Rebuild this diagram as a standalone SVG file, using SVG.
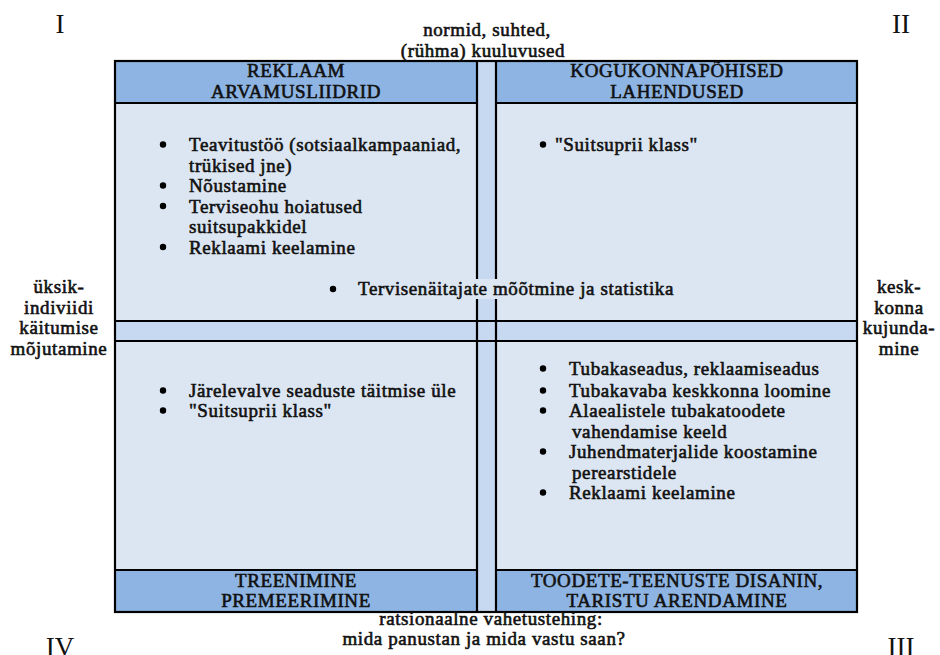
<svg xmlns="http://www.w3.org/2000/svg" width="940" height="655" viewBox="0 0 940 655">
<style>
text{font-family:"Liberation Serif",serif;font-weight:normal;font-size:19px;fill:#111;stroke:#111;stroke-width:0.6;letter-spacing:0.6px}
.c{text-anchor:middle}
.num{font-size:27px;stroke:none;letter-spacing:0}
.body{fill:#DCE6F2}
.band{fill:#8DB4E2}
.strip{fill:#C6D9F1}
.ln{stroke:#000;stroke-width:2.2;fill:none}
.b{fill:#000}
</style>
<rect width="940" height="655" fill="#fff"/>
<g id="frame">
<rect class="body" x="115" y="61" width="742" height="551"/>
<rect class="band" x="115" y="61" width="362" height="42"/>
<rect class="band" x="496" y="61" width="361" height="42"/>
<rect class="band" x="115" y="570" width="362" height="42"/>
<rect class="band" x="496" y="570" width="361" height="42"/>
<rect class="strip" x="477" y="61" width="19" height="551"/>
<rect class="strip" x="115" y="321" width="742" height="20"/>
<path class="ln" d="M115 103H477M496 103H857M115 570H477M496 570H857M115 321H857M115 341H857M477 61V612M496 61V612"/>
<rect class="ln" x="115" y="61" width="742" height="551"/>
</g>
<g id="q1">
<text class="c" x="296" y="77">REKLAAM</text>
<text class="c" x="296" y="98">ARVAMUSLIIDRID</text>
<circle class="b" cx="163" cy="144.5" r="3.2"/>
<text x="189" y="151">Teavitustöö (sotsiaalkampaaniad,</text>
<text x="189" y="171.5">trükised jne)</text>
<circle class="b" cx="163" cy="185.5" r="3.2"/>
<text x="189" y="192">Nõustamine</text>
<circle class="b" cx="163" cy="206" r="3.2"/>
<text x="189" y="212.5">Terviseohu hoiatused</text>
<text x="189" y="233">suitsupakkidel</text>
<circle class="b" cx="163" cy="247" r="3.2"/>
<text x="189" y="253.5">Reklaami keelamine</text>
</g>
<g id="q2">
<text class="c" x="677" y="77">KOGUKONNAPÕHISED</text>
<text class="c" x="677" y="98">LAHENDUSED</text>
<circle class="b" cx="543" cy="144.5" r="3.2"/>
<text x="555" y="151">"Suitsuprii klass"</text>
</g>
<g id="center">
<rect class="body" x="355" y="279" width="330" height="20"/>
<circle class="b" cx="333" cy="289" r="3.2"/>
<text x="358" y="295">Tervisenäitajate mõõtmine ja statistika</text>
</g>
<g id="q4">
<circle class="b" cx="163" cy="390.5" r="3.2"/>
<text x="189" y="397">Järelevalve seaduste täitmise üle</text>
<circle class="b" cx="163" cy="410.5" r="3.2"/>
<text x="189" y="417">"Suitsuprii klass"</text>
<text class="c" x="296" y="587">TREENIMINE</text>
<text class="c" x="296" y="607">PREMEERIMINE</text>
</g>
<g id="q3">
<circle class="b" cx="543" cy="368.5" r="3.2"/>
<text x="569" y="375">Tubakaseadus, reklaamiseadus</text>
<circle class="b" cx="543" cy="390.5" r="3.2"/>
<text x="569" y="397">Tubakavaba keskkonna loomine</text>
<circle class="b" cx="543" cy="410.5" r="3.2"/>
<text x="569" y="417">Alaealistele tubakatoodete</text>
<text x="572" y="438">vahendamise keeld</text>
<circle class="b" cx="543" cy="451.5" r="3.2"/>
<text x="569" y="458">Juhendmaterjalide koostamine</text>
<text x="572" y="479">perearstidele</text>
<circle class="b" cx="543" cy="492.5" r="3.2"/>
<text x="569" y="499">Reklaami keelamine</text>
<text class="c" x="677" y="587">TOODETE-TEENUSTE DISANIN,</text>
<text class="c" x="677" y="607">TARISTU ARENDAMINE</text>
</g>
<g id="axes">
<text class="c" x="487" y="36">normid, suhted,</text>
<text class="c" x="483" y="57">(rühma) kuuluvused</text>
<text class="c" x="491" y="625" font-size="18">ratsionaalne vahetustehing:</text>
<text class="c" x="484" y="645" font-size="18">mida panustan ja mida vastu saan?</text>
<text class="c" x="59" y="293">üksik-</text>
<text class="c" x="59" y="313.5">indiviidi</text>
<text class="c" x="59" y="334">käitumise</text>
<text class="c" x="59" y="354.5">mõjutamine</text>
<text class="c" x="899" y="293">kesk-</text>
<text class="c" x="899" y="313.5">konna</text>
<text class="c" x="899" y="334">kujunda-</text>
<text class="c" x="899" y="354.5">mine</text>
</g>
<g id="numerals">
<text class="c num" x="60" y="33">I</text>
<text class="c num" x="901" y="33">II</text>
<text class="c num" x="901" y="656">III</text>
<text class="c num" x="60" y="656">IV</text>
</g>
</svg>
